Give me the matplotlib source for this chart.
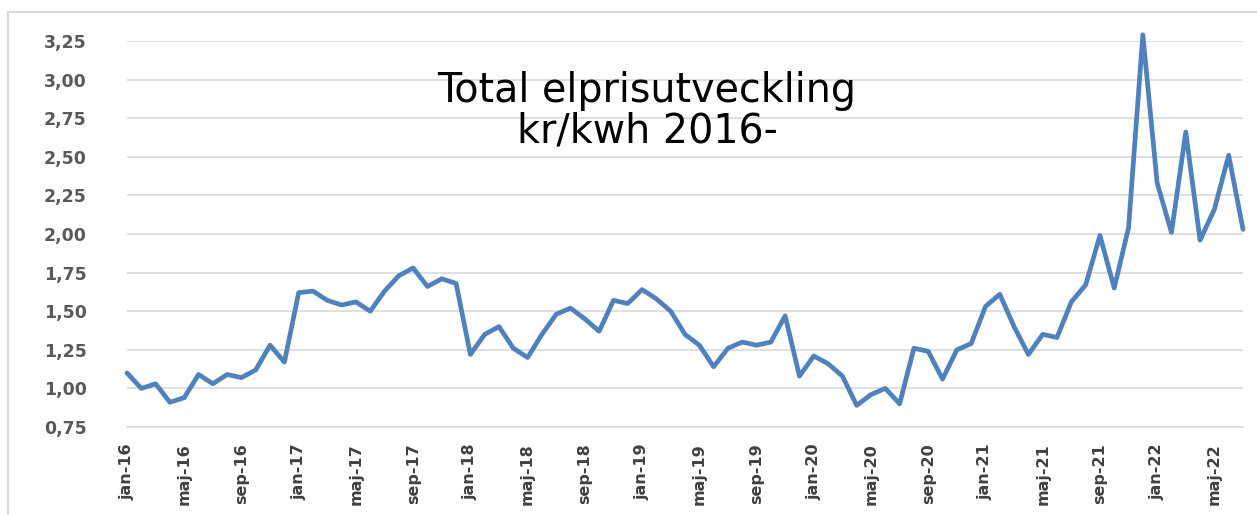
import matplotlib
matplotlib.use("Agg")
import matplotlib.pyplot as plt
from matplotlib.lines import Line2D
import numpy as np

months_sv = ["jan", "feb", "mar", "apr", "maj", "jun", "jul", "aug", "sep", "okt", "nov", "dec"]
years = ["16", "17", "18", "19", "20", "21", "22"]
categories = [f"{m}-{y}" for y in years for m in months_sv][:79]

prices = [
    1.10, 1.00, 1.03, 0.91, 0.94, 1.09, 1.03, 1.09, 1.07, 1.12, 1.28, 1.17,
    1.62, 1.63, 1.57, 1.54, 1.56, 1.50, 1.63, 1.73, 1.78, 1.66, 1.71, 1.68,
    1.22, 1.35, 1.40, 1.26, 1.20, 1.35, 1.48, 1.52, 1.45, 1.37, 1.57, 1.55,
    1.64, 1.58, 1.50, 1.35, 1.28, 1.14, 1.26, 1.30, 1.28, 1.30, 1.47, 1.08,
    1.21, 1.16, 1.08, 0.89, 0.96, 1.00, 0.90, 1.26, 1.24, 1.06, 1.25, 1.29,
    1.53, 1.61, 1.40, 1.22, 1.35, 1.33, 1.56, 1.67, 1.99, 1.65, 2.04, 3.29,
    2.33, 2.01, 2.66, 1.96, 2.16, 2.51, 2.03,
]

y_ticks = [0.75, 1.00, 1.25, 1.50, 1.75, 2.00, 2.25, 2.50, 2.75, 3.00, 3.25]
y_tick_labels = ["0,75", "1,00", "1,25", "1,50", "1,75", "2,00", "2,25", "2,50", "2,75", "3,00", "3,25"]
title_line1 = "Total elprisutveckling"
title_line2 = "kr/kwh 2016-"

W, H = 1257, 515
fig = plt.figure(figsize=(W / 100, H / 100), dpi=100)
ax = fig.add_axes([127 / W, 88 / H, (1243 - 127) / W, (427 - 41) / H])

x = np.arange(len(prices))
ax.plot(x, prices, color="#4F81BD", linewidth=3.4, clip_on=False,
        solid_joinstyle="round", solid_capstyle="round", zorder=3)

ax.set_xlim(0, len(prices) - 1)
ax.set_ylim(0.75, 3.25)
ax.set_yticks(y_ticks)
ax.set_yticklabels(y_tick_labels)
ax.yaxis.grid(True, color="#D9D9D9", linewidth=1.2)
ax.set_axisbelow(True)

tick_idx = list(range(0, len(prices), 4))
ax.set_xticks(tick_idx)
ax.set_xticklabels([categories[i] for i in tick_idx], rotation=90,
                   fontfamily="Liberation Sans Narrow", fontweight="bold",
                   fontsize=11.5, color="#404040", va="top", ha="center")

for lab in ax.get_yticklabels():
    lab.set_fontfamily("DejaVu Sans")
    lab.set_fontweight("bold")
    lab.set_fontsize(12.5)
    lab.set_color("#595959")

ax.tick_params(axis="y", length=0, pad=29)
ax.tick_params(axis="x", length=0, pad=12)
for s in ax.spines.values():
    s.set_visible(False)
ax.spines["bottom"].set_visible(True)
ax.spines["bottom"].set_color("#D9D9D9")
ax.spines["bottom"].set_linewidth(1.2)

fig.text(647 / W, 1 - 102 / H, title_line1, ha="center", va="baseline",
         fontfamily="DejaVu Sans", fontsize=28.5, color="black")
fig.text(647 / W, 1 - 142 / H, title_line2, ha="center", va="baseline",
         fontfamily="DejaVu Sans", fontsize=28.5, color="black")

# chart area border
fig.add_artist(Line2D([8 / W, 8 / W], [0, 1 - 12 / H], transform=fig.transFigure,
                      color="#D9D9D9", linewidth=1.5))
fig.add_artist(Line2D([8 / W, 1], [1 - 12 / H, 1 - 12 / H], transform=fig.transFigure,
                      color="#D9D9D9", linewidth=1.5))

fig.savefig("out.png", dpi=100, facecolor="white")
